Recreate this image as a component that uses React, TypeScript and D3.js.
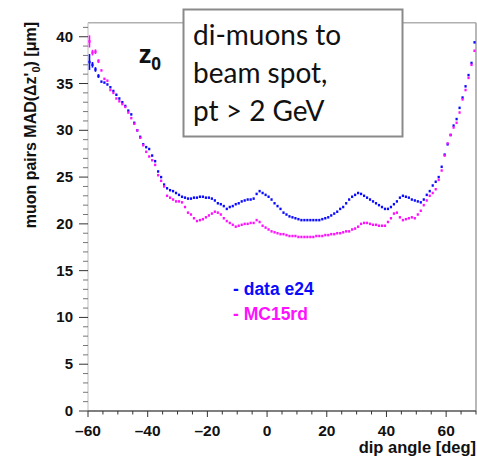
import React from 'react';
import * as d3 from 'd3';

// dip angle bin centres: -59.5 ... 69.5 (1 deg bins)
const binStart = -59.5;

// muon pairs MAD(dz'0) [um], data e24
const dataE24 = [
  37.3, 37.0, 36.5, 35.8, 35.2, 35.1, 34.9, 34.6, 34.2, 33.8,
  33.4, 33.0, 32.6, 32.1, 31.7, 30.8, 30.0, 29.3, 28.5, 28.2,
  28.0, 27.3, 26.7, 25.6, 25.0, 24.2, 23.8, 23.6, 23.5, 23.3,
  23.1, 22.9, 22.8, 22.7, 22.7, 22.8, 22.8, 22.9, 22.9, 22.8,
  22.8, 22.7, 22.5, 22.2, 22.1, 21.9, 21.6, 21.8, 21.9, 22.1,
  22.2, 22.4, 22.5, 22.6, 22.6, 22.7, 23.2, 23.5, 23.3, 23.1,
  22.9, 22.6, 22.2, 21.9, 21.6, 21.2, 21.0, 20.8, 20.7, 20.6,
  20.5, 20.4, 20.4, 20.4, 20.4, 20.4, 20.4, 20.4, 20.5, 20.6,
  20.7, 20.9, 21.1, 21.3, 21.6, 21.8, 22.2, 22.6, 22.9, 23.1,
  23.3, 23.2, 23.0, 22.8, 22.6, 22.4, 22.2, 22.0, 21.8, 21.6,
  21.6, 21.8, 22.1, 22.4, 22.8, 23.0, 22.9, 22.8, 22.6, 22.5,
  22.4, 22.3, 22.6, 23.1, 23.5, 24.1, 24.5, 25.0, 26.1, 27.4,
  28.5, 29.5, 30.5, 31.2, 32.4, 33.5, 34.7, 35.9, 37.2, 39.4,
];

// MC15rd
const mc15rd = [
  39.5, 38.3, 38.4, 37.4, 36.4, 35.5, 35.3, 34.3, 34.0, 33.4,
  33.1, 32.8, 32.5, 31.9, 31.3, 30.7, 30.0, 29.2, 28.4, 27.7,
  27.2, 26.8, 26.3, 25.2, 24.6, 24.0, 23.0, 22.8, 22.6, 22.4,
  22.4, 22.3, 21.8, 21.2, 21.0, 20.6, 20.3, 20.4, 20.5, 20.7,
  20.9, 21.1, 21.3, 21.2, 21.0, 20.6, 20.3, 20.1, 19.9, 19.7,
  19.8, 19.9, 20.0, 20.0, 20.1, 20.1, 20.4, 20.2, 19.8, 19.6,
  19.4, 19.2, 19.1, 19.0, 18.9, 18.9, 18.8, 18.7, 18.7, 18.7,
  18.6, 18.6, 18.6, 18.6, 18.6, 18.6, 18.7, 18.7, 18.7, 18.8,
  18.8, 18.9, 18.9, 19.0, 19.0, 19.1, 19.2, 19.2, 19.4, 19.5,
  19.7, 20.0, 20.1, 20.1, 20.0, 19.9, 19.9, 19.8, 19.8, 19.8,
  20.2, 20.6, 21.1, 21.2, 20.7, 20.4, 20.5, 20.6, 20.7, 20.6,
  21.0, 21.4, 22.0, 22.5, 23.0, 23.3, 23.7, 24.7, 25.7, 27.3,
  28.6, 29.5, 30.3, 30.8, 31.9, 33.3, 34.3, 35.6, 37.0, 38.5,
];

// visible error bars on the first bins only
const errData = [0.85, 0.3, 0.25, 0.2];
const errMC = [0.65, 0.3, 0.25, 0.2];

const xMajor = [-60, -40, -20, 0, 20, 40, 60];
const yMajor = [0, 5, 10, 15, 20, 25, 30, 35, 40];
const boxLines = ['di-muons to', 'beam spot,', 'pt > 2 GeV'];

const BLUE = '#0a0aff';
const MAGENTA = '#ff10ff';

const W = 477;
const H = 456;

export default function App() {
  const x = d3.scaleLinear().domain([-60, 70]).range([88, 476]);
  const y = d3.scaleLinear().domain([0, 41.5]).range([411, 22.7]);

  const xMinor = d3.range(-60, 71, 5);
  const yMinor = d3.range(0, 42, 1);

  const series = [
    { values: dataE24, err: errData, color: BLUE },
    { values: mc15rd, err: errMC, color: MAGENTA },
  ];

  const font = 'Liberation Sans, Arial, sans-serif';

  return (
    <svg width={W} height={H} style={{ position: 'absolute', left: 0, top: 0, background: '#fff' }}>
      <rect x={0} y={0} width={W} height={H} fill="#fff" />
      {/* frame */}
      <line x1={x(-60)} x2={x(70)} y1={y(41.5)} y2={y(41.5)} stroke="#b0b0b0" strokeWidth={1.5} />
      <line x1={x(70)} x2={x(70)} y1={y(41.5)} y2={y(0)} stroke="#a0a0a0" strokeWidth={1.5} />
      <line x1={x(-60)} x2={x(-60)} y1={y(41.5)} y2={y(0)} stroke="#c8c8c8" strokeWidth={1.2} />
      <line x1={x(-60)} x2={x(70)} y1={y(0)} y2={y(0)} stroke="#555" strokeWidth={1.4} />

      {/* y ticks */}
      {yMinor.map((v) => (
        <line key={'ym' + v} x1={x(-60) - (v % 5 === 0 ? 9 : 5)} x2={x(-60)} y1={y(v)} y2={y(v)}
          stroke={v % 5 === 0 ? '#333' : '#777'} strokeWidth={1} />
      ))}
      {yMajor.map((v) => (
        <text key={'yl' + v} x={73} y={y(v) + 5} textAnchor="end" fontFamily={font} fontWeight="bold"
          fontSize={15} fill="#111">{v}</text>
      ))}

      {/* x ticks */}
      {xMinor.map((v) => (
        <line key={'xm' + v} x1={x(v)} x2={x(v)} y1={y(0)} y2={y(0) + (v % 20 === 0 ? 6 : 3.5)}
          stroke="#333" strokeWidth={1} />
      ))}
      {xMajor.map((v) => (
        <text key={'xl' + v} x={x(v)} y={436} textAnchor="middle" fontFamily={font} fontWeight="bold"
          fontSize={15.5} fill="#111">{v < 0 ? '\u2013' + Math.abs(v) : v}</text>
      ))}

      {/* axis titles */}
      <text x={476} y={453} textAnchor="end" fontFamily={font} fontWeight="bold" fontSize={16.5} fill="#111">
        dip angle [deg]
      </text>
      <text transform="translate(36,22) rotate(-90)" textAnchor="end" fontFamily={font} fontWeight="bold"
        fontSize={16} fill="#111">
        muon pairs MAD(Δz'<tspan fontSize={11} dy={4}>0</tspan><tspan dy={-4}>) [μm]</tspan>
      </text>

      {/* points */}
      {series.map((s, si) => (
        <g key={'s' + si} fill={s.color} stroke={s.color}>
          {s.values.map((v, i) => {
            const cx = x(binStart + i);
            const cy = y(v);
            const e = s.err[i];
            return (
              <g key={i}>
                {e ? <line x1={cx} x2={cx} y1={y(v + e)} y2={y(v - e)} strokeWidth={1.6} /> : null}
                <rect x={cx - 1.1} y={cy - 1.25} width={2.2} height={2.5} stroke="none" />
              </g>
            );
          })}
        </g>
      ))}

      {/* legend */}
      <text x={233} y={295} fontFamily={font} fontWeight="bold" fontSize={17.5} fill={BLUE}>- data e24</text>
      <text x={233} y={320} fontFamily={font} fontWeight="bold" fontSize={17.5} fill={MAGENTA}>- MC15rd</text>

      {/* z0 label */}
      <text x={139} y={63} fontFamily="Open Sans, Lato, sans-serif" fontWeight="bold" fontSize={25} fill="#111">
        z<tspan fontSize={17} dy={7}>0</tspan>
      </text>

      {/* annotation box */}
      <rect x={183.5} y={9.5} width={219} height={127} fill="#fff" stroke="#8a8a8a" strokeWidth={2} />
      {boxLines.map((t, i) => (
        <text key={t} x={193} y={45 + i * 38} fontFamily="Lato, Open Sans, sans-serif" fontSize={28} fill="#111">
          {t}
        </text>
      ))}
    </svg>
  );
}
